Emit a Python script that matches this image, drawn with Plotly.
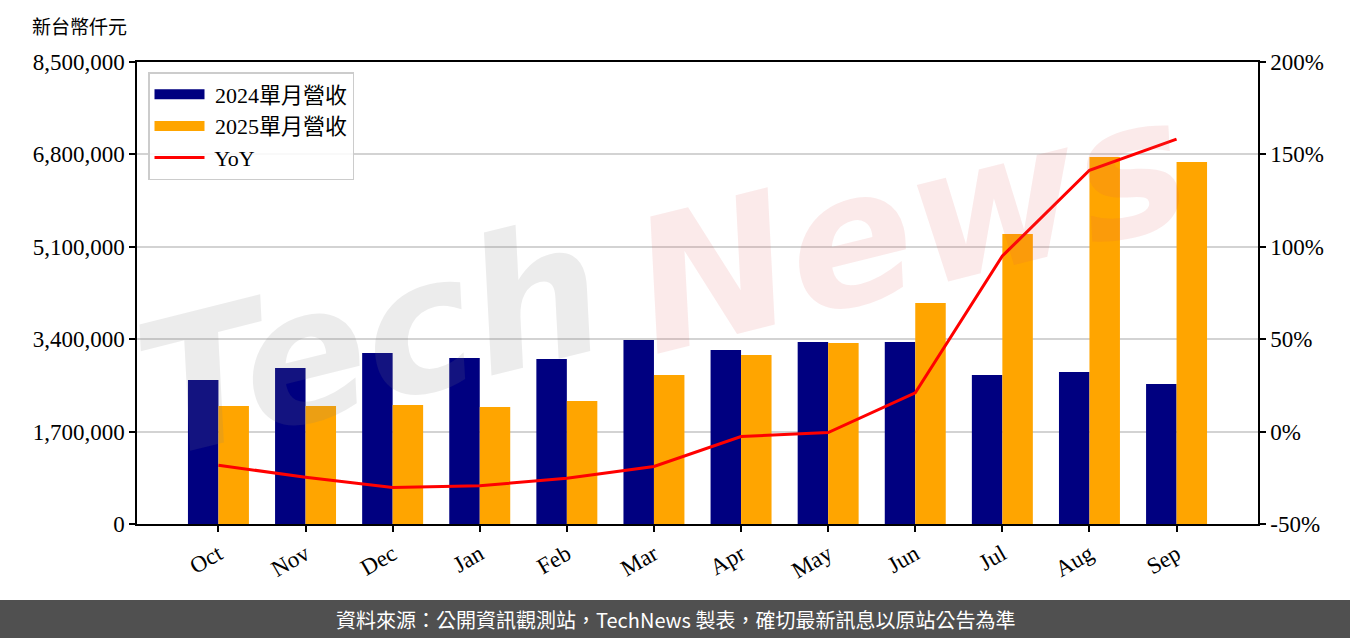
import plotly.graph_objects as go

MONTHS = ["Oct", "Nov", "Dec", "Jan", "Feb", "Mar", "Apr", "May", "Jun", "Jul", "Aug", "Sep"]
REV_2024 = [2649000, 2870000, 3146000, 3054000, 3036000, 3385000,
            3201000, 3348000, 3348000, 2741000, 2796000, 2576000]
REV_2025 = [2171000, 2171000, 2189000, 2153000, 2263000, 2741000,
            3109000, 3330000, 4066000, 5335000, 6752000, 6660000]
YOY = [-18.2, -24.7, -30.2, -29.3, -25.3, -18.9, -2.7, -0.5, 21.0, 95.0, 141.4, 158.3]

LEFT_TICKS = [0, 1700000, 3400000, 5100000, 6800000, 8500000]
RIGHT_TICKS = [-50, 0, 50, 100, 150, 200]

NAVY = "#000080"
ORANGE = "#FFA500"
RED = "#FF0000"
SERIF = "Liberation Serif, DejaVu Serif, Noto Sans CJK TC, serif"
SANS = "Noto Sans CJK TC, Noto Sans, sans-serif"

# plot area in pixels: x 137..1258, y 62..524
L, R, T, B = 137, 1258, 62, 524


def px_x(x):
    return (x - L) / (R - L)


def px_y(y):
    return (B - y) / (B - T)


idx = list(range(len(MONTHS)))

fig = go.Figure()
fig.add_trace(go.Bar(
    x=idx, y=REV_2024, name="2024單月營收", marker_color=NAVY,
    width=0.35, offset=-0.35, marker_line_width=0, showlegend=False,
))
fig.add_trace(go.Bar(
    x=idx, y=REV_2025, name="2025單月營收", marker_color=ORANGE,
    width=0.35, offset=0, marker_line_width=0, showlegend=False,
))
fig.add_trace(go.Scatter(
    x=idx, y=YOY, name="YoY", mode="lines", yaxis="y2",
    line=dict(color=RED, width=3), showlegend=False,
))

# legend entries (wide patches like the original)
for name, color, lw in [("2024單月營收", NAVY, 16), ("2025單月營收", ORANGE, 16), ("YoY", RED, 3)]:
    fig.add_trace(go.Scatter(
        x=[None], y=[None], mode="lines", name=" " + name,
        line=dict(color=color, width=lw),
    ))

axis_common = dict(
    showline=True, linecolor="black", linewidth=1.5,
    ticks="outside", ticklen=6, tickwidth=1.5, tickcolor="black",
    tickfont=dict(family=SERIF, size=23, color="black"),
    zeroline=False,
)

fig.update_layout(
    width=1350, height=638,
    margin=dict(l=L, r=1350 - R, t=T, b=638 - B),
    paper_bgcolor="white", plot_bgcolor="white",
    barmode="overlay",
    font=dict(family=SERIF, size=19, color="black"),
    xaxis=dict(
        **axis_common,
        mirror=True,
        range=[-0.935, 11.935],
        tickvals=idx, ticktext=MONTHS, tickangle=-30,
        showgrid=False,
    ),
    yaxis=dict(
        **axis_common,
        range=[0, 8500000], tickvals=LEFT_TICKS,
        ticktext=[f"{v:,}" for v in LEFT_TICKS],
        showgrid=True, gridcolor="#d3d3d3", gridwidth=1.5,
    ),
    yaxis2=dict(
        **axis_common,
        overlaying="y", side="right",
        range=[-50, 200], tickvals=RIGHT_TICKS,
        ticktext=[f"{v}%" for v in RIGHT_TICKS],
        showgrid=False,
    ),
    legend=dict(
        x=px_x(148), y=px_y(72), xanchor="left", yanchor="top",
        bgcolor="rgba(255,255,255,0.85)", bordercolor="#cccccc", borderwidth=1.5,
        font=dict(family=SERIF, size=22), itemwidth=50, tracegroupgap=0,
    ),
    showlegend=True,
)

# watermark
fig.add_annotation(
    text="Tech", xref="paper", yref="paper", x=px_x(370), y=px_y(340),
    xanchor="center", yanchor="middle",
    showarrow=False, textangle=-14,
    font=dict(family="DejaVu Sans", size=185, weight="bold", style="italic",
              color="rgba(128,128,128,0.15)"),
)
fig.add_annotation(
    text="News", xref="paper", yref="paper", x=px_x(910), y=px_y(225),
    xanchor="center", yanchor="middle",
    showarrow=False, textangle=-14,
    font=dict(family="DejaVu Sans", size=185, weight="bold", style="italic",
              color="rgba(220,80,80,0.12)"),
)

# unit label
fig.add_annotation(
    text="新台幣仟元", xref="paper", yref="paper", x=px_x(30), y=px_y(27),
    xanchor="left", yanchor="middle", showarrow=False,
    font=dict(family=SERIF, size=19, color="black"),
)

# footer band
fig.add_shape(
    type="rect", xref="paper", yref="paper",
    x0=px_x(0), x1=px_x(1350), y0=px_y(600), y1=px_y(640),
    fillcolor="#505050", line_width=0, layer="above",
)
fig.add_annotation(
    text="資料來源：公開資訊觀測站，TechNews 製表，確切最新訊息以原站公告為準",
    xref="paper", yref="paper", x=px_x(675), y=px_y(619),
    xanchor="center", yanchor="middle", showarrow=False,
    font=dict(family=SANS, size=20, color="white"),
)

fig.write_html(
    "out.html",
    config={"displayModeBar": False},
    post_script="document.body.style.margin='0';",
)
